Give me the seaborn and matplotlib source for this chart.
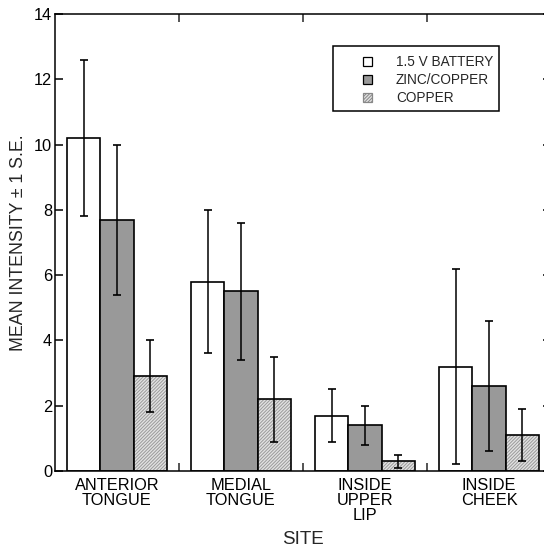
import matplotlib
matplotlib.use('Agg')
import matplotlib.pyplot as plt
from matplotlib.patches import Patch, Rectangle
import seaborn as sns
import pandas as pd
import numpy as np

sites = ['ANTERIOR\nTONGUE', 'MEDIAL\nTONGUE', 'INSIDE\nUPPER\nLIP', 'INSIDE\nCHEEK']
stimuli = ['1.5 V BATTERY', 'ZINC/COPPER', 'COPPER']

battery = [10.2, 5.8, 1.7, 3.2]
battery_se = [2.4, 2.2, 0.8, 3.0]
zinc_copper = [7.7, 5.5, 1.4, 2.6]
zinc_copper_se = [2.3, 2.1, 0.6, 2.0]
copper = [2.9, 2.2, 0.3, 1.1]
copper_se = [1.1, 1.3, 0.2, 0.8]

means = [battery, zinc_copper, copper]
errs = [battery_se, zinc_copper_se, copper_se]

rows = []
for s, m, e in zip(stimuli, means, errs):
    for site, v, se in zip(sites, m, e):
        rows.append({'site': site, 'stimulus': s, 'mean': v, 'se': se})
df = pd.DataFrame(rows)

sns.set_style('ticks')
plt.rcParams['font.family'] = ['Liberation Sans', 'DejaVu Sans']
plt.rcParams['hatch.linewidth'] = 0.7

fig = plt.figure(figsize=(5.44, 5.53), dpi=100)
ax = fig.add_axes([55 / 544, 1 - 471 / 553, 496 / 544, 457 / 553])

fills = ['white', '#999999', '#e2e2e2']
sns.barplot(data=df, x='site', y='mean', hue='stimulus', order=sites,
            hue_order=stimuli, palette=fills, errorbar=None, gap=0,
            width=0.8, edgecolor='black', linewidth=1.2, legend=False, ax=ax)

bar_groups = list(ax.containers)
for i, cont in enumerate(bar_groups):
    for p, se in zip(cont.patches, errs[i]):
        if i == 2:
            p.set_hatch('//////////')
            p.set_edgecolor('#9a9a9a')
            p.set_linewidth(0)
            ax.add_patch(Rectangle(p.get_xy(), p.get_width(), p.get_height(),
                                   fill=False, ec='black', lw=1.2, zorder=p.get_zorder() + 0.1))
        cx = p.get_x() + p.get_width() / 2
        ax.errorbar(cx, p.get_height(), yerr=se, fmt='none', ecolor='black',
                    elinewidth=1.1, capsize=2.6, capthick=1.2, zorder=5)

ax.set_xlim(-0.5, 3.5)
ax.set_ylim(0, 14)
ax.set_yticks(np.arange(0, 15, 2))
ax.set_xticks(np.arange(4))
ax.set_xticklabels(sites, linespacing=1.0)
ax.set_xticks([0.5, 1.5, 2.5], minor=True)

for sp in ax.spines.values():
    sp.set_visible(True)
    sp.set_linewidth(1.1)
    sp.set_color('black')

ax.tick_params(axis='y', which='major', direction='in', left=True, right=True,
               length=5.8, width=1.1, labelsize=11.8, pad=2, colors='black')
ax.tick_params(axis='x', which='major', length=0, labelsize=11.8, pad=5, colors='black')
ax.tick_params(axis='x', which='minor', direction='in', top=True, bottom=True,
               length=5.5, width=1.1)

ax.set_xlabel('SITE', fontsize=13.5, labelpad=6)
ax.set_ylabel('MEAN INTENSITY \u00b1 1 S.E.', fontsize=12.8, labelpad=5)

handles = [Patch(facecolor='white', edgecolor='black', lw=0.9),
           Patch(facecolor='#999999', edgecolor='black', lw=0.9),
           Patch(facecolor='#e2e2e2', edgecolor='#888888', hatch='//////////', lw=0.9)]
leg = ax.legend(handles, stimuli, loc='upper left', frameon=False, fontsize=9.8,
                bbox_to_anchor=(363 / 544, 1 - 55 / 553), bbox_transform=fig.transFigure,
                handlelength=0.68, handleheight=0.68, handletextpad=1.75,
                labelspacing=0.3, borderpad=0, borderaxespad=0)
fig.patches.append(Rectangle((333 / 544, 1 - 111 / 553), 166 / 544, 65 / 553,
                             transform=fig.transFigure, fill=False, ec='black', lw=1.1))

fig.savefig('out.png', dpi=100)
